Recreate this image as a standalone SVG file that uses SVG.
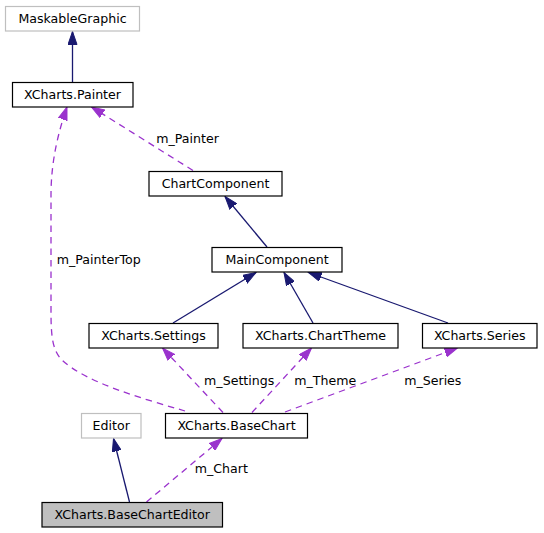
<svg xmlns="http://www.w3.org/2000/svg" width="544" height="533" viewBox="0 0 544 533">
<defs>
<style>
.box{fill:#ffffff;stroke:#000000;stroke-width:1.2}
.ext{fill:#ffffff;stroke:#bfbfbf;stroke-width:1.2}
.cur{fill:#bfbfbf;stroke:#000000;stroke-width:1.2}
text{font-family:"DejaVu Sans","Liberation Sans",sans-serif;font-size:12.6px;fill:#000000;text-anchor:middle}
.inh{fill:none;stroke:#191970;stroke-width:1.3}
.use{fill:none;stroke:#9a32cd;stroke-width:1.3;stroke-dasharray:6.5,5}
</style>
<marker id="ah" markerUnits="userSpaceOnUse" markerWidth="14" markerHeight="10" refX="13" refY="5" orient="auto" viewBox="0 0 14 10">
<path d="M0,0.5 L13,5 L0,9.5 z" fill="#191970" stroke="#191970" stroke-width="1"/>
</marker>
<marker id="ap" markerUnits="userSpaceOnUse" markerWidth="14" markerHeight="10" refX="13" refY="5" orient="auto" viewBox="0 0 14 10">
<path d="M0,0.5 L13,5 L0,9.5 z" fill="#9a32cd" stroke="#9a32cd" stroke-width="1"/>
</marker>
</defs>
<rect width="544" height="533" fill="#ffffff"/>
<g id="connectors">
<path class="inh" marker-end="url(#ah)" d="M72.5,82 L72.5,31.5"/>
<path class="use" marker-end="url(#ap)" d="M193,170.5 L91.5,107"/>
<text x="187.5" y="143">m_Painter</text>
<path class="inh" marker-end="url(#ah)" d="M267,247 L225,196.5"/>
<path class="inh" marker-end="url(#ah)" d="M173,323 L256,272.5"/>
<path class="inh" marker-end="url(#ah)" d="M313,323 L284,272.5"/>
<path class="inh" marker-end="url(#ah)" d="M448,323 L308.5,272.5"/>
<path class="use" marker-end="url(#ap)" d="M185,411 C140,398 85,382 62,360 C52,350 51,335 51,310 L51,195 C51,160 59,130 67,107"/>
<text x="98.7" y="264">m_PainterTop</text>
<path class="use" marker-end="url(#ap)" d="M223,412.5 L162.5,348"/>
<text x="239.2" y="384.5">m_Settings</text>
<path class="use" marker-end="url(#ap)" d="M252,412.5 L311.5,348"/>
<text x="325.3" y="384.5">m_Theme</text>
<path class="use" marker-end="url(#ap)" d="M285,412 L457.5,348"/>
<text x="432.8" y="384.5">m_Series</text>
<path class="inh" marker-end="url(#ah)" d="M129.5,502 L113.5,438.5"/>
<path class="use" marker-end="url(#ap)" d="M146.5,502 L222,438.5"/>
<text x="221.3" y="473">m_Chart</text>
</g>
<g id="MaskableGraphic"><rect class="ext" x="5.5" y="6.5" width="134" height="24.5"/><text x="72.5" y="22.8">MaskableGraphic</text></g>
<g id="Painter"><rect class="box" x="12.5" y="82.5" width="120.5" height="24.5"/><text x="72.5" y="98.8">XCharts.Painter</text></g>
<g id="ChartComponent"><rect class="box" x="149" y="171.5" width="133" height="24.5"/><text x="215.5" y="187.8">ChartComponent</text></g>
<g id="MainComponent"><rect class="box" x="212" y="247.5" width="130" height="24.5"/><text x="277" y="263.8">MainComponent</text></g>
<g id="Settings"><rect class="box" x="89" y="323.5" width="129" height="24.5"/><text x="153.5" y="339.8">XCharts.Settings</text></g>
<g id="ChartTheme"><rect class="box" x="243" y="323.5" width="155" height="24.5"/><text x="320.5" y="339.8">XCharts.ChartTheme</text></g>
<g id="Series"><rect class="box" x="422.5" y="323.5" width="114.5" height="24.5"/><text x="479.7" y="339.8">XCharts.Series</text></g>
<g id="Editor"><rect class="ext" x="81.5" y="413.5" width="59.5" height="24.5"/><text x="111.2" y="429.8">Editor</text></g>
<g id="BaseChart"><rect class="box" x="165.5" y="413.5" width="142" height="24.5"/><text x="236.5" y="429.8">XCharts.BaseChart</text></g>
<g id="BaseChartEditor"><rect class="cur" x="42" y="502.5" width="180.5" height="24.5"/><text x="132.2" y="518.8">XCharts.BaseChartEditor</text></g>
</svg>
